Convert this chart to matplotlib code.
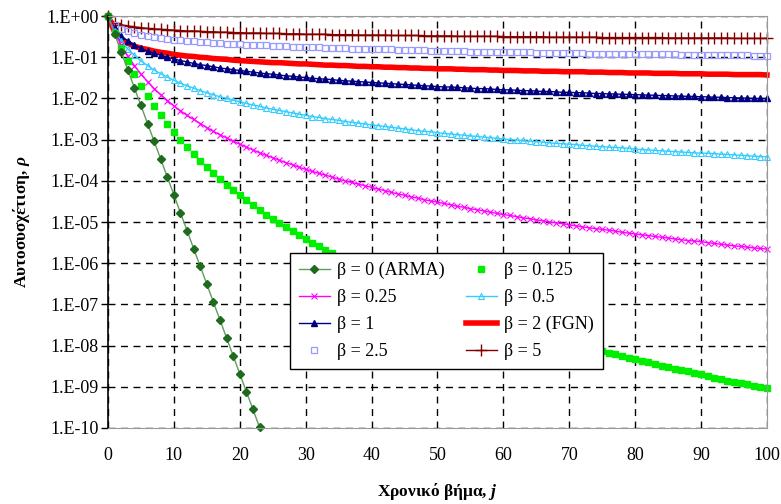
import numpy as np
import matplotlib
matplotlib.use("Agg")
from matplotlib import pyplot as plt
from matplotlib.ticker import FuncFormatter, FixedLocator

plt.rcParams['font.family'] = ['Liberation Serif', 'DejaVu Serif']
plt.rcParams['mathtext.fontset'] = 'custom'
plt.rcParams['mathtext.it'] = 'Liberation Serif:italic:bold'
plt.rcParams['mathtext.rm'] = 'Liberation Serif'

# autocorrelation values, stored as log10(rho)
steps = list(range(101))
arma_steps = list(range(24))

log_b0 = [0, -0.43, -0.87, -1.30, -1.74, -2.17, -2.61, -3.04, -3.47, -3.91, -4.34, -4.78,
          -5.21, -5.65, -6.08, -6.51, -6.95, -7.38, -7.82, -8.25, -8.69, -9.12, -9.55, -9.99]

log_b0125 = [0, -0.41, -0.78, -1.10, -1.41, -1.69, -1.94, -2.18, -2.41, -2.62, -2.82,
             -3.01, -3.18, -3.35, -3.51, -3.67, -3.82, -3.96, -4.10, -4.22, -4.35,
             -4.47, -4.59, -4.70, -4.82, -4.93, -5.02, -5.13, -5.22, -5.32, -5.42,
             -5.50, -5.59, -5.68, -5.76, -5.84, -5.92, -6.00, -6.08, -6.15, -6.22,
             -6.30, -6.37, -6.44, -6.50, -6.57, -6.63, -6.70, -6.76, -6.82, -6.88,
             -6.94, -7.00, -7.06, -7.11, -7.17, -7.22, -7.28, -7.34, -7.38, -7.44,
             -7.49, -7.54, -7.58, -7.63, -7.68, -7.73, -7.78, -7.82, -7.86, -7.91,
             -7.96, -8.00, -8.04, -8.09, -8.13, -8.17, -8.21, -8.25, -8.30, -8.33,
             -8.37, -8.41, -8.45, -8.49, -8.52, -8.56, -8.60, -8.63, -8.67, -8.70,
             -8.74, -8.78, -8.81, -8.85, -8.88, -8.91, -8.94, -8.98, -9.01, -9.04]

log_b025 = [0, -0.39, -0.70, -0.97, -1.20, -1.41, -1.59, -1.76, -1.91, -2.05, -2.18,
            -2.30, -2.41, -2.51, -2.61, -2.71, -2.80, -2.88, -2.96, -3.04, -3.11,
            -3.18, -3.25, -3.32, -3.38, -3.44, -3.50, -3.56, -3.61, -3.67, -3.72,
            -3.77, -3.82, -3.86, -3.91, -3.96, -4.00, -4.04, -4.08, -4.12, -4.16,
            -4.20, -4.24, -4.28, -4.32, -4.35, -4.39, -4.42, -4.46, -4.49, -4.52,
            -4.55, -4.58, -4.62, -4.64, -4.68, -4.70, -4.73, -4.76, -4.79, -4.82,
            -4.84, -4.87, -4.90, -4.92, -4.95, -4.97, -5.00, -5.02, -5.04, -5.07,
            -5.09, -5.12, -5.14, -5.16, -5.18, -5.20, -5.22, -5.25, -5.27, -5.29,
            -5.31, -5.33, -5.35, -5.37, -5.39, -5.41, -5.43, -5.45, -5.46, -5.48,
            -5.50, -5.52, -5.54, -5.56, -5.58, -5.59, -5.61, -5.63, -5.64, -5.66]

log_b05 = [0, -0.35, -0.60, -0.80, -0.95, -1.09, -1.20, -1.31, -1.40, -1.48, -1.56,
           -1.63, -1.69, -1.75, -1.81, -1.86, -1.91, -1.96, -2.00, -2.04, -2.08,
           -2.12, -2.16, -2.19, -2.23, -2.26, -2.29, -2.32, -2.35, -2.38, -2.41,
           -2.44, -2.46, -2.49, -2.51, -2.53, -2.56, -2.58, -2.60, -2.62, -2.64,
           -2.66, -2.68, -2.70, -2.72, -2.74, -2.76, -2.78, -2.80, -2.81, -2.83,
           -2.85, -2.86, -2.88, -2.89, -2.91, -2.92, -2.94, -2.95, -2.97, -2.98,
           -3.00, -3.01, -3.02, -3.04, -3.05, -3.06, -3.08, -3.09, -3.10, -3.11,
           -3.12, -3.14, -3.15, -3.16, -3.17, -3.18, -3.19, -3.20, -3.21, -3.23,
           -3.24, -3.25, -3.26, -3.27, -3.28, -3.29, -3.30, -3.31, -3.32, -3.33,
           -3.33, -3.34, -3.35, -3.36, -3.37, -3.38, -3.39, -3.40, -3.41, -3.42]

log_b1 = [0, -0.30, -0.48, -0.60, -0.70, -0.78, -0.85, -0.90, -0.95, -1.00, -1.04,
          -1.08, -1.11, -1.15, -1.18, -1.20, -1.23, -1.26, -1.28, -1.30, -1.32,
          -1.34, -1.36, -1.38, -1.40, -1.41, -1.43, -1.45, -1.46, -1.48, -1.49,
          -1.51, -1.52, -1.53, -1.54, -1.56, -1.57, -1.58, -1.59, -1.60, -1.61,
          -1.62, -1.63, -1.64, -1.65, -1.66, -1.67, -1.68, -1.69, -1.70, -1.71,
          -1.72, -1.72, -1.73, -1.74, -1.75, -1.76, -1.76, -1.77, -1.78, -1.79,
          -1.79, -1.80, -1.81, -1.81, -1.82, -1.83, -1.83, -1.84, -1.85, -1.85,
          -1.86, -1.86, -1.87, -1.88, -1.88, -1.89, -1.89, -1.90, -1.90, -1.91,
          -1.91, -1.92, -1.92, -1.93, -1.93, -1.94, -1.94, -1.95, -1.95, -1.96,
          -1.96, -1.97, -1.97, -1.98, -1.98, -1.99, -1.99, -2.00, -2.00, -2.00]

log_b2_fgn = [0, -0.38, -0.57, -0.66, -0.73, -0.78, -0.81, -0.85, -0.88, -0.90, -0.93,
              -0.95, -0.97, -0.98, -1.00, -1.01, -1.03, -1.04, -1.05, -1.07, -1.08,
              -1.09, -1.10, -1.11, -1.12, -1.13, -1.13, -1.14, -1.15, -1.16, -1.16,
              -1.17, -1.18, -1.19, -1.19, -1.20, -1.20, -1.21, -1.22, -1.22, -1.23,
              -1.23, -1.24, -1.24, -1.25, -1.25, -1.26, -1.26, -1.27, -1.27, -1.28,
              -1.28, -1.28, -1.29, -1.29, -1.30, -1.30, -1.30, -1.31, -1.31, -1.32,
              -1.32, -1.32, -1.33, -1.33, -1.33, -1.34, -1.34, -1.34, -1.35, -1.35,
              -1.35, -1.35, -1.36, -1.36, -1.36, -1.37, -1.37, -1.37, -1.38, -1.38,
              -1.38, -1.38, -1.39, -1.39, -1.39, -1.39, -1.40, -1.40, -1.40, -1.40,
              -1.41, -1.41, -1.41, -1.41, -1.42, -1.42, -1.42, -1.42, -1.42, -1.43]

log_b25 = [0, -0.22, -0.31, -0.37, -0.42, -0.45, -0.48, -0.51, -0.53, -0.55, -0.57,
           -0.58, -0.60, -0.61, -0.62, -0.63, -0.65, -0.66, -0.67, -0.67, -0.68,
           -0.69, -0.70, -0.71, -0.71, -0.72, -0.73, -0.73, -0.74, -0.75, -0.75,
           -0.76, -0.76, -0.77, -0.77, -0.78, -0.78, -0.79, -0.79, -0.80, -0.80,
           -0.81, -0.81, -0.81, -0.82, -0.82, -0.83, -0.83, -0.83, -0.84, -0.84,
           -0.84, -0.85, -0.85, -0.85, -0.86, -0.86, -0.86, -0.87, -0.87, -0.87,
           -0.87, -0.88, -0.88, -0.88, -0.89, -0.89, -0.89, -0.89, -0.90, -0.90,
           -0.90, -0.90, -0.91, -0.91, -0.91, -0.91, -0.91, -0.92, -0.92, -0.92,
           -0.92, -0.93, -0.93, -0.93, -0.93, -0.93, -0.94, -0.94, -0.94, -0.94,
           -0.94, -0.95, -0.95, -0.95, -0.95, -0.95, -0.95, -0.96, -0.96, -0.96]

log_b5 = [0, -0.16, -0.21, -0.24, -0.26, -0.28, -0.30, -0.31, -0.32, -0.33, -0.34,
          -0.35, -0.36, -0.36, -0.37, -0.38, -0.38, -0.39, -0.39, -0.40, -0.40,
          -0.41, -0.41, -0.41, -0.42, -0.42, -0.42, -0.43, -0.43, -0.43, -0.44,
          -0.44, -0.44, -0.44, -0.45, -0.45, -0.45, -0.45, -0.46, -0.46, -0.46,
          -0.46, -0.46, -0.47, -0.47, -0.47, -0.47, -0.47, -0.48, -0.48, -0.48,
          -0.48, -0.48, -0.49, -0.49, -0.49, -0.49, -0.49, -0.49, -0.49, -0.50,
          -0.50, -0.50, -0.50, -0.50, -0.50, -0.50, -0.51, -0.51, -0.51, -0.51,
          -0.51, -0.51, -0.51, -0.51, -0.52, -0.52, -0.52, -0.52, -0.52, -0.52,
          -0.52, -0.52, -0.52, -0.52, -0.53, -0.53, -0.53, -0.53, -0.53, -0.53,
          -0.53, -0.53, -0.53, -0.53, -0.54, -0.54, -0.54, -0.54, -0.54, -0.54]

labels = ['β = 0 (ARMA)', 'β = 0.125', 'β = 0.25', 'β = 0.5',
          'β = 1', 'β = 2 (FGN)', 'β = 2.5', 'β = 5']

fig = plt.figure(figsize=(7.81, 5.04), dpi=100)
ax = fig.add_axes([0.1383, 0.151, 0.8437, 0.817])

def rho(vals):
    return 10.0 ** np.array(vals)

h_b5, = ax.plot(steps, rho(log_b5), color='#800000', lw=1.0, marker='+', ms=9, mew=1.0,
                label=labels[7], clip_on=False)
h_b25, = ax.plot(steps, rho(log_b25), ls='none', marker='s', ms=4.5, mfc='none',
                 mec='#9999FF', mew=0.9, label=labels[6], clip_on=False)
h_b2, = ax.plot(steps, rho(log_b2_fgn), color='#FF0000', lw=4, label=labels[5], clip_on=False)
h_b1, = ax.plot(steps, rho(log_b1), color='#000080', lw=1.0, marker='^', ms=4,
                label=labels[4], clip_on=False)
h_b05, = ax.plot(steps, rho(log_b05), color='#33CCFF', lw=1.0, marker='^', ms=4,
                 mfc='none', mew=0.8, label=labels[3], clip_on=False)
h_b025, = ax.plot(steps, rho(log_b025), color='#FF00FF', lw=1.0, marker='x', ms=5,
                  mew=0.8, label=labels[2], clip_on=False)
h_b0125, = ax.plot(steps, rho(log_b0125), ls='none', marker='s', ms=4.5, color='#00EE00',
                   label=labels[1], clip_on=False)
h_b0, = ax.plot(arma_steps, rho(log_b0), color='#5E9E5E', lw=1.0, marker='D', ms=4.5,
                mfc='#1E6B1E', mec='#1E6B1E', label=labels[0], clip_on=False)

ax.set_yscale('log')
ax.set_xlim(0, 100)
ax.set_ylim(1e-10, 1)
ax.set_xticks(range(0, 101, 10))
ax.yaxis.set_major_locator(FixedLocator([10.0 ** k for k in range(-10, 1)]))
ax.yaxis.set_minor_locator(FixedLocator([]))
ax.yaxis.set_major_formatter(FuncFormatter(lambda v, p: '1.E%+03d' % int(round(np.log10(v)))))

ax.grid(True, color='black', ls=(0, (5, 4)), lw=1.0)
ax.set_axisbelow(True)
ax.tick_params(axis='y', direction='out', length=5, width=1, labelsize=13, pad=2)
ax.tick_params(axis='x', length=0, labelsize=13, pad=14)
for s in ['top', 'right']:
    ax.spines[s].set_color('#999999')
ax.spines['left'].set_linewidth(1.2)
ax.spines['bottom'].set_color('#999999')

ax.set_xlabel('Χρονικό βήμα, $j$', fontsize=12.5, fontweight='bold', labelpad=12)
ax.set_ylabel('Αυτοσυσχέτιση, $ρ$', fontsize=12.5, fontweight='bold', labelpad=10)

handles = [h_b0, h_b025, h_b1, h_b25, h_b0125, h_b05, h_b2, h_b5]
leg = ax.legend(handles=handles, ncol=2, loc='upper left', bbox_to_anchor=(0.276, 0.425),
                borderaxespad=0, fontsize=13, frameon=True, fancybox=False, framealpha=1,
                edgecolor='black', borderpad=0.5, handlelength=1.7, handletextpad=0.4,
                columnspacing=1.2, labelspacing=0.55)
leg.get_frame().set_linewidth(1.0)
leg.set_zorder(10)

fig.savefig('out.png', dpi=100)
